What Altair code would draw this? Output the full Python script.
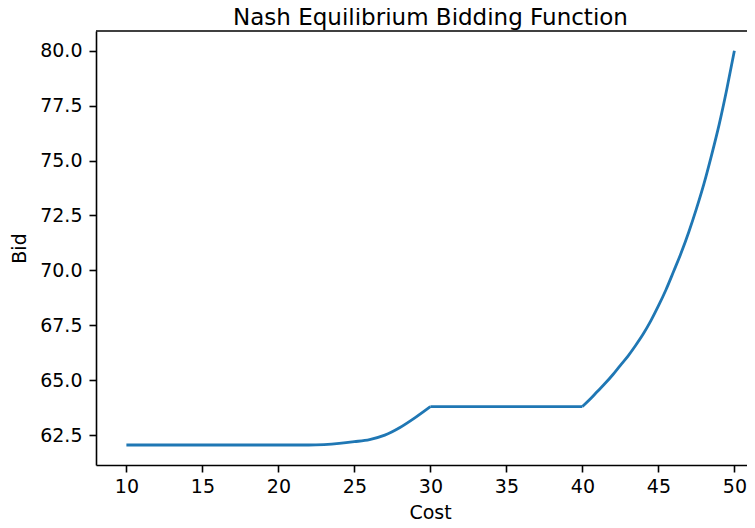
import altair as alt
import pandas as pd

# piece of the bidding function each point belongs to (kinks at 30 and 40)
segment = ["a"] * 21 + ["b"] * 11 + ["c"] * 21
cost = [10, 11, 12, 13, 14, 15, 16, 17, 18, 19, 20, 21, 22, 23, 24, 25, 26, 27, 28, 29, 30,
        30, 31, 32, 33, 34, 35, 36, 37, 38, 39, 40,
        40, 40.5, 41, 41.5, 42, 42.5, 43, 43.5, 44, 44.5, 45, 45.5, 46, 46.5, 47, 47.5,
        48, 48.5, 49, 49.5, 50]
bid = [62.05, 62.05, 62.05, 62.05, 62.05, 62.05, 62.05, 62.05, 62.05, 62.05, 62.05, 62.05, 62.05,
       62.07, 62.12, 62.2, 62.3, 62.5, 62.85, 63.3, 63.8,
       63.8, 63.8, 63.8, 63.8, 63.8, 63.8, 63.8, 63.8, 63.8, 63.8, 63.8,
       63.8, 64.13, 64.5, 64.86, 65.25, 65.68, 66.1, 66.58, 67.1, 67.7, 68.38, 69.12, 69.95, 70.8,
       71.75, 72.8, 73.95, 75.25, 76.65, 78.25, 80.0]

x_ticks = [10, 15, 20, 25, 30, 35, 40, 45, 50]
y_ticks = [62.5, 65.0, 67.5, 70.0, 72.5, 75.0, 77.5, 80.0]

df = pd.DataFrame({"Cost": cost, "Bid": bid, "seg": segment})

font = "DejaVu Sans"
W = 651
H = 434

line = alt.Chart(df).mark_line(color="#1f77b4", strokeWidth=2.8, interpolate="monotone").encode(
    x=alt.X("Cost:Q", scale=alt.Scale(domain=[8, 50.83], nice=False, zero=False),
            axis=alt.Axis(values=x_ticks, title="Cost", grid=False, format="d", titleX=334)),
    y=alt.Y("Bid:Q", scale=alt.Scale(domain=[61.14, 80.9], nice=False, zero=False),
            axis=alt.Axis(values=y_ticks, title="Bid", grid=False, format=".1f")),
    detail="seg:N",
)

top_spine = alt.Chart(pd.DataFrame({"k": [0]})).mark_rule(color="black", strokeWidth=1.6).encode(
    x=alt.value(0), x2=alt.value(W), y=alt.value(0)
)

chart = alt.layer(line, top_spine).properties(
    width=W,
    height=H,
    title=alt.TitleParams("Nash Equilibrium Bidding Function", font=font, fontSize=23,
                          fontWeight="normal", color="black", offset=0.5, dx=9),
    autosize=alt.AutoSizeParams(type="none"),
    padding={"left": 88, "top": 23, "right": 0, "bottom": 55},
).configure_view(
    stroke=None
).configure_axis(
    domainColor="black", domainWidth=1.6, tickColor="black", tickWidth=1.6, tickSize=7,
    labelFont=font, labelFontSize=19, labelColor="black",
    titleFont=font, titleFontSize=19, titleColor="black", titleFontWeight="normal",
).configure_axisX(
    labelPadding=5, titlePadding=7
).configure_axisY(
    labelPadding=7, titlePadding=10
)

chart.save("out.html", embed_options={"renderer": "svg", "actions": False})
